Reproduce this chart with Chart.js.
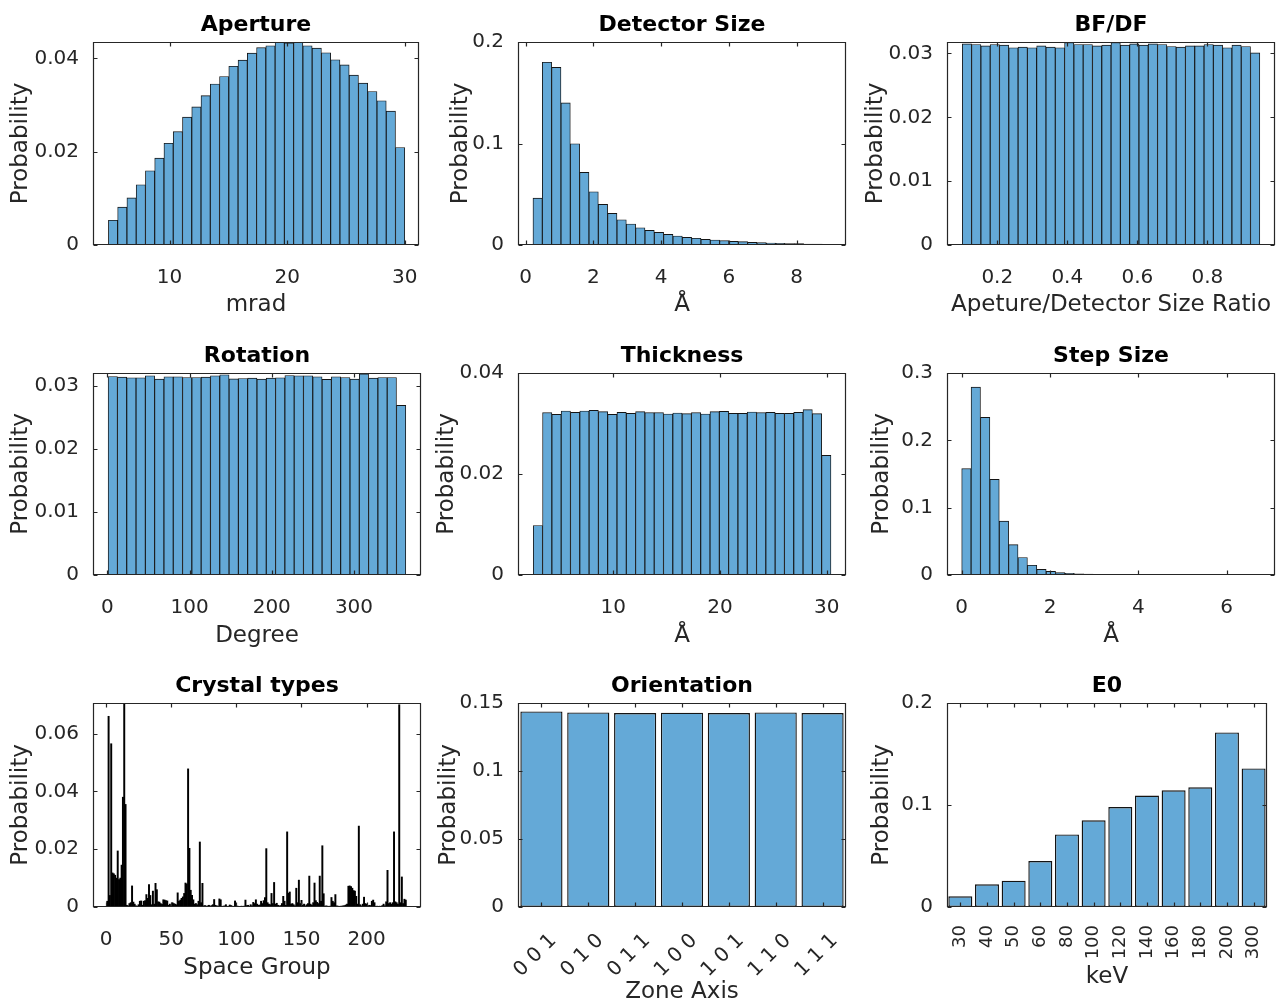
<!DOCTYPE html>
<html>
<head>
<meta charset="utf-8">
<script src="https://cdn.jsdelivr.net/npm/chart.js@4.4.0/dist/chart.umd.min.js"></script>
<style>
html, body { margin: 0; padding: 0; background: #fff; }
#page { position: relative; width: 1286px; height: 1007px; overflow: hidden; background: #fff; }
#page canvas { position: absolute; }
</style>
</head>
<body>
<div id="page"></div>
<script>
// ---- data (probabilities per bin) ----
var APERTURE_BINS = [4.8, 30.0];
var APERTURE_PROB = [0.0053, 0.0081, 0.0101, 0.0129, 0.0159, 0.0186, 0.0218, 0.0243, 0.0274, 0.0296,
    0.0320, 0.0345, 0.0361, 0.0383, 0.0396, 0.0411, 0.0423, 0.0427, 0.0434, 0.0433,
    0.0434, 0.0427, 0.0422, 0.0412, 0.0397, 0.0386, 0.0364, 0.0347, 0.0329, 0.0309,
    0.0287, 0.0209];

var DETECTOR_BINS = [0.215, 9.03];
var DETECTOR_PROB = [0.0462, 0.1800, 0.1750, 0.1400, 0.0997, 0.0715, 0.0525, 0.0400, 0.0311, 0.0249,
    0.0207, 0.0170, 0.0144, 0.0125, 0.0105, 0.0089, 0.0075, 0.0066, 0.0056, 0.0049,
    0.0043, 0.0036, 0.0033, 0.0026, 0.0023, 0.0020, 0.0016, 0.0015, 0.0013, 0.0010,
    0.0008, 0.0007];

var BFDF_BINS = [0.1, 0.95];
var BFDF_PROB = [0.0315, 0.0314, 0.0312, 0.0314, 0.0313, 0.0309, 0.0310, 0.0309, 0.0312, 0.0310,
    0.0309, 0.0317, 0.0314, 0.0314, 0.0312, 0.0313, 0.0317, 0.0313, 0.0315, 0.0313,
    0.0315, 0.0314, 0.0311, 0.0310, 0.0312, 0.0312, 0.0314, 0.0313, 0.0309, 0.0313,
    0.0311, 0.0301];

var ROTATION_BINS = [1, 363];
var ROTATION_PROB = [0.03145, 0.03135, 0.03124, 0.03124, 0.03156, 0.03103, 0.03140, 0.03140, 0.03129, 0.03129,
    0.03135, 0.03156, 0.03172, 0.03108, 0.03113, 0.03119, 0.03103, 0.03119, 0.03124, 0.03161,
    0.03156, 0.03156, 0.03140, 0.03098, 0.03140, 0.03129, 0.03103, 0.03187, 0.03119, 0.03129,
    0.03129, 0.02686];

var THICKNESS_BINS = [2.5, 30.4];
var THICKNESS_PROB = [0.0098, 0.03215, 0.03182, 0.03248, 0.03221, 0.03248, 0.03261, 0.03234, 0.03182, 0.03221,
    0.03201, 0.03234, 0.03215, 0.03215, 0.03188, 0.03208, 0.03195, 0.03215, 0.03188, 0.03234,
    0.03241, 0.03201, 0.03201, 0.03228, 0.03215, 0.03221, 0.03201, 0.03201, 0.03221, 0.03274,
    0.03195, 0.0237];

var STEP_BINS = [0, 6.8];
var STEP_PROB = [0.158, 0.279, 0.234, 0.142, 0.080, 0.045, 0.026, 0.0144, 0.0084, 0.0054,
    0.0035, 0.0025, 0.0018, 0.0012, 0.0009, 0.0006, 0.0005, 0.0004, 0.0003, 0.0002,
    0.0002, 0.0001, 0.0001, 0.0001, 0.0001, 0.0001, 0.0001, 0.0000, 0.0000, 0.0000,
    0.0000, 0.0001];

// space groups 1..230
var SPACE_GROUPS = [1, 230];
var CRYSTAL_PROB = [
    0.0020, 0.0660, 0.0040, 0.0565, 0.0118, 0.0115, 0.0110, 0.0100, 0.0194, 0.0095,
    0.0100, 0.0145, 0.0380, 0.0720, 0.0355, 0.0006, 0.0004, 0.0012, 0.0015, 0.0073,
    0.0017, 0.0010, 0.0004, 0.0003, 0.0008, 0.0020, 0.0021, 0.0006, 0.0020, 0.0022,
    0.0043, 0.0030, 0.0078, 0.0040, 0.0008, 0.0055, 0.0010, 0.0082, 0.0060, 0.0018,
    0.0017, 0.0012, 0.0009, 0.0025, 0.0024, 0.0022, 0.0021, 0.0006, 0.0010, 0.0004,
    0.0015, 0.0012, 0.0010, 0.0008, 0.0049, 0.0020, 0.0024, 0.0030, 0.0035, 0.0047,
    0.0083, 0.0080, 0.0478, 0.0203, 0.0058, 0.0040, 0.0025, 0.0010, 0.0012, 0.0008,
    0.0020, 0.0225, 0.0015, 0.0082, 0.0004, 0.0005, 0.0003, 0.0004, 0.0006, 0.0003,
    0.0005, 0.0008, 0.0026, 0.0006, 0.0004, 0.0003, 0.0028, 0.0025, 0.0002, 0.0003,
    0.0004, 0.0008, 0.0002, 0.0003, 0.0007, 0.0005, 0.0003, 0.0002, 0.0021, 0.0004,
    0.0003, 0.0002, 0.0002, 0.0003, 0.0002, 0.0003, 0.0024, 0.0005, 0.0006, 0.0003,
    0.0008, 0.0004, 0.0016, 0.0012, 0.0025, 0.0010, 0.0006, 0.0007, 0.0020, 0.0012,
    0.0022, 0.0033, 0.0202, 0.0015, 0.0010, 0.0008, 0.0047, 0.0012, 0.0085, 0.0010,
    0.0013, 0.0006, 0.0004, 0.0005, 0.0012, 0.0037, 0.0020, 0.0006, 0.0260, 0.0048,
    0.0052, 0.0010, 0.0012, 0.0008, 0.0004, 0.0065, 0.0015, 0.0093, 0.0012, 0.0023,
    0.0006, 0.0010, 0.0004, 0.0008, 0.0012, 0.0107, 0.0010, 0.0006, 0.0015, 0.0083,
    0.0022, 0.0016, 0.0012, 0.0107, 0.0020, 0.0212, 0.0046, 0.0003, 0.0004, 0.0003,
    0.0002, 0.0003, 0.0033, 0.0020, 0.0015, 0.0043, 0.0004, 0.0003, 0.0002, 0.0003,
    0.0003, 0.0004, 0.0005, 0.0007, 0.0010, 0.0072, 0.0073, 0.0071, 0.0065, 0.0057,
    0.0055, 0.0037, 0.0010, 0.0280, 0.0008, 0.0004, 0.0010, 0.0034, 0.0012, 0.0010,
    0.0004, 0.0006, 0.0005, 0.0020, 0.0024, 0.0015, 0.0002, 0.0003, 0.0002, 0.0003,
    0.0002, 0.0005, 0.0010, 0.0004, 0.0018, 0.0127, 0.0012, 0.0015, 0.0010, 0.0015,
    0.0260, 0.0018, 0.0015, 0.0010, 0.0700, 0.0015, 0.0104, 0.0012, 0.0027, 0.0024];

var ZONE_AXES = ['0 0 1', '0 1 0', '0 1 1', '1 0 0', '1 0 1', '1 1 0', '1 1 1'];
var ZONE_PROB = [0.1438, 0.1431, 0.1426, 0.1429, 0.1426, 0.1431, 0.1426];

var E0_KEV = ['30', '40', '50', '60', '80', '100', '120', '140', '160', '180', '200', '300'];
var E0_PROB = [0.0105, 0.0222, 0.0258, 0.0451, 0.0712, 0.0850, 0.0980, 0.1092, 0.1144, 0.1173, 0.1712, 0.1359];

// tick values
var APERTURE_XTICKS = [10, 20, 30],          APERTURE_YTICKS = [0, 0.02, 0.04];
var DETECTOR_XTICKS = [0, 2, 4, 6, 8],       DETECTOR_YTICKS = [0, 0.1, 0.2];
var BFDF_XTICKS = [0.2, 0.4, 0.6, 0.8],      BFDF_YTICKS = [0, 0.01, 0.02, 0.03];
var ROTATION_XTICKS = [0, 100, 200, 300],    ROTATION_YTICKS = [0, 0.01, 0.02, 0.03];
var THICKNESS_XTICKS = [10, 20, 30],         THICKNESS_YTICKS = [0, 0.02, 0.04];
var STEP_XTICKS = [0, 2, 4, 6],              STEP_YTICKS = [0, 0.1, 0.2, 0.3];
var CRYSTAL_XTICKS = [0, 50, 100, 150, 200], CRYSTAL_YTICKS = [0, 0.02, 0.04, 0.06];
var ZONE_YTICKS = [0, 0.05, 0.1, 0.15];
var E0_YTICKS = [0, 0.1, 0.2];

// ---- styling ----
var FACE = 'rgb(100,169,215)', EDGE = '#141414', AXIS = '#262626';
var FONT = "'DejaVu Sans', sans-serif";
var TICK_FONT = 20, LABEL_FONT = 23, LABEL_HALF = 13.8;
var TICK_LEN = 4;
var YAXIS_W = 95, XAXIS_H = 100, TITLE_H = 42;

// MATLAB-like box with inward ticks on all four sides
var boxTicks = {
    id: 'boxTicks',
    afterDatasetsDraw: function (chart) {
        var ctx = chart.ctx, a = chart.chartArea, xs = chart.scales.x, ys = chart.scales.y;
        var L = Math.round(a.left) + 0.5, R = Math.round(a.right) - 0.5;
        var T = Math.round(a.top) + 0.5, B = Math.round(a.bottom) - 0.5;
        ctx.save();
        ctx.strokeStyle = AXIS;
        ctx.lineWidth = 1.2;
        ctx.beginPath();
        xs.ticks.forEach(function (t, i) {
            var p = Math.round(xs.getPixelForTick(i)) + 0.5;
            ctx.moveTo(p, B); ctx.lineTo(p, B - TICK_LEN);
            ctx.moveTo(p, T); ctx.lineTo(p, T + TICK_LEN);
        });
        ys.ticks.forEach(function (t, i) {
            var p = Math.round(ys.getPixelForTick(i)) + 0.5;
            ctx.moveTo(L, p); ctx.lineTo(L + TICK_LEN, p);
            ctx.moveTo(R, p); ctx.lineTo(R - TICK_LEN, p);
        });
        ctx.rect(L, T, R - L, B - T);
        ctx.stroke();
        ctx.restore();
    }
};

function binCenters(range, n) {
    var w = (range[1] - range[0]) / n, c = [];
    for (var i = 0; i < n; i++) c.push(range[0] + (i + 0.5) * w);
    return c;
}

function fixedTicks(list) {
    return function (scale) {
        scale.ticks = list.map(function (v) { return { value: v }; });
    };
}

function panel(p) {
    var c = document.createElement('canvas');
    var padR = p.padR || 10;
    c.width = p.box[2] - p.box[0] + YAXIS_W + padR;
    c.height = p.box[3] - p.box[1] + TITLE_H + XAXIS_H;
    c.style.left = (p.box[0] - YAXIS_W) + 'px';
    c.style.top = (p.box[1] - TITLE_H) + 'px';
    document.getElementById('page').appendChild(c);

    var ds = {
        data: p.data,
        backgroundColor: p.face || FACE,
        borderColor: EDGE,
        borderWidth: p.edge === undefined ? 0.9 : p.edge,
        borderSkipped: false,
        barPercentage: p.barPct || 1,
        categoryPercentage: 1
    };

    var xScale;
    if (p.categories) {
        xScale = {
            type: 'category',
            offset: true,
            grid: { display: false },
            border: { display: false },
            ticks: {
                color: AXIS, font: { family: FONT, size: p.xFont || TICK_FONT },
                minRotation: p.rot, maxRotation: p.rot, autoSkip: false,
                padding: p.xPad, labelOffset: p.labelOffset || 0
            }
        };
    } else {
        xScale = {
            type: 'linear',
            min: p.xlim[0], max: p.xlim[1],
            bounds: 'data',
            offset: false,
            grid: { display: false },
            border: { display: false },
            afterBuildTicks: fixedTicks(p.xticks),
            ticks: {
                color: AXIS, font: { family: FONT, size: TICK_FONT },
                maxRotation: 0, autoSkip: false, padding: 13,
                callback: function (v) { return String(v); }
            }
        };
    }
    xScale.title = {
        display: true, text: p.xlabel, color: AXIS,
        font: { family: FONT, size: LABEL_FONT },
        padding: { top: 0, bottom: XAXIS_H - p.xTitleGap - LABEL_HALF }
    };
    xScale.afterFit = function (s) { s.height = XAXIS_H; };

    var yScale = {
        type: 'linear',
        min: 0, max: p.ymax,
        bounds: 'data',
        grid: { display: false },
        border: { display: false },
        afterBuildTicks: fixedTicks(p.yticks),
        ticks: {
            color: AXIS, font: { family: FONT, size: TICK_FONT }, padding: 6, autoSkip: false,
            callback: function (v) { return String(v); }
        },
        title: {
            display: true, text: 'Probability', color: AXIS,
            font: { family: FONT, size: LABEL_FONT },
            padding: { top: YAXIS_W - LABEL_HALF - p.yTitleGap, bottom: 0 }
        },
        afterFit: function (s) { s.width = YAXIS_W; }
    };

    new Chart(c.getContext('2d'), {
        type: 'bar',
        data: { labels: p.categories, datasets: [ds] },
        options: {
            responsive: false,
            animation: false,
            events: [],
            layout: { padding: { left: 0, right: padR, top: 0, bottom: 0 }, autoPadding: false },
            plugins: {
                legend: { display: false },
                tooltip: { enabled: false },
                title: {
                    display: true, text: p.title, color: '#000', fullSize: false,
                    font: { family: FONT, size: 22, weight: 'bold' },
                    padding: { top: 11.6, bottom: 4 }
                }
            },
            scales: { x: xScale, y: yScale }
        },
        plugins: [boxTicks]
    });
}

function histData(range, probs) {
    var xs = binCenters(range, probs.length);
    return probs.map(function (v, i) { return { x: xs[i], y: v }; });
}

// plot boxes [left, top, right, bottom]
var COLS = [[93, 421], [518, 846], [947, 1275]];
var ROWS = [[42, 245], [373, 575], [703, 907]];
function box(r, c) { return [COLS[c][0], ROWS[r][0], COLS[c][1], ROWS[r][1]]; }

panel({ box: box(0, 0), title: 'Aperture', xlabel: 'mrad', data: histData(APERTURE_BINS, APERTURE_PROB),
    xlim: [3.49, 31.21], xticks: APERTURE_XTICKS, ymax: 0.0435, yticks: APERTURE_YTICKS,
    xTitleGap: 60, yTitleGap: 72 });
panel({ box: box(0, 1), title: 'Detector Size', xlabel: 'Å', data: histData(DETECTOR_BINS, DETECTOR_PROB),
    xlim: [-0.227, 9.455], xticks: DETECTOR_XTICKS, ymax: 0.2, yticks: DETECTOR_YTICKS,
    xTitleGap: 60, yTitleGap: 57 });
panel({ box: box(0, 2), padR: 11, title: 'BF/DF', xlabel: 'Apeture/Detector Size Ratio', data: histData(BFDF_BINS, BFDF_PROB),
    xlim: [0.0563, 0.9934], xticks: BFDF_XTICKS, ymax: 0.0318, yticks: BFDF_YTICKS,
    xTitleGap: 60, yTitleGap: 71 });

panel({ box: box(1, 0), title: 'Rotation', xlabel: 'Degree', data: histData(ROTATION_BINS, ROTATION_PROB),
    xlim: [-17.4, 381.5], xticks: ROTATION_XTICKS, ymax: 0.032, yticks: ROTATION_YTICKS,
    xTitleGap: 61, yTitleGap: 72 });
panel({ box: box(1, 1), title: 'Thickness', xlabel: 'Å', data: histData(THICKNESS_BINS, THICKNESS_PROB),
    xlim: [1.07, 31.81], xticks: THICKNESS_XTICKS, ymax: 0.04, yticks: THICKNESS_YTICKS,
    xTitleGap: 61, yTitleGap: 71 });
panel({ box: box(1, 2), padR: 11, title: 'Step Size', xlabel: 'Å', data: histData(STEP_BINS, STEP_PROB),
    xlim: [-0.333, 7.094], xticks: STEP_XTICKS, ymax: 0.3, yticks: STEP_YTICKS,
    xTitleGap: 61, yTitleGap: 65 });

panel({ box: box(2, 0), title: 'Crystal types', xlabel: 'Space Group',
    data: histData([SPACE_GROUPS[0] - 0.5, SPACE_GROUPS[1] + 0.5], CRYSTAL_PROB),
    face: '#000', edge: 0,
    xlim: [-9.97, 241.7], xticks: CRYSTAL_XTICKS, ymax: 0.0706, yticks: CRYSTAL_YTICKS,
    xTitleGap: 61, yTitleGap: 72 });
panel({ box: box(2, 1), title: 'Orientation', xlabel: 'Zone Axis', categories: ZONE_AXES, data: ZONE_PROB,
    barPct: 0.9, edge: 1.4, rot: 45, xPad: 14, labelOffset: 12, ymax: 0.15, yticks: ZONE_YTICKS,
    xTitleGap: 85, yTitleGap: 69 });
panel({ box: box(2, 2), padR: 11, title: 'E0', xlabel: 'keV', categories: E0_KEV, data: E0_PROB,
    barPct: 0.9, edge: 1.4, rot: 90, xPad: 10, xFont: 18, ymax: 0.2, yticks: E0_YTICKS,
    xTitleGap: 70, yTitleGap: 65 });
</script>
</body>
</html>
